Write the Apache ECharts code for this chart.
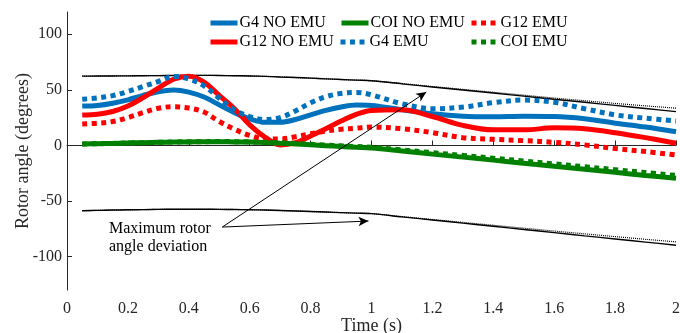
<!DOCTYPE html>
<html>
<head>
<meta charset="utf-8">
<script src="https://cdn.jsdelivr.net/npm/echarts@6/dist/echarts.min.js"></script>
<style>
  html, body { margin: 0; padding: 0; background: #fff; }
  #chart { width: 680px; height: 333px; }
</style>
</head>
<body>
<div id="chart"></div>
<script>
const time = [0.05, 0.1, 0.15, 0.2, 0.25, 0.3, 0.35, 0.4, 0.45, 0.5, 0.55, 0.6, 0.65, 0.7, 0.75,
  0.8, 0.85, 0.9, 0.95, 1.0, 1.1, 1.2, 1.3, 1.4, 1.5, 1.6, 1.7, 1.8, 1.9, 2.0]

const g4NoEmu = [35.4, 36, 38, 41, 45, 48.3, 49.8, 48, 43.5, 36.5, 29.5, 24, 20.8, 20.8, 23.3,
  27.5, 31.5, 34.5, 36.3, 36, 32, 28.5, 26.3, 25.8, 26.2, 26, 24, 20, 16.5, 12.3]
const g4Emu = [41.5, 42.8, 44.8, 48.5, 53, 57.5, 62, 59.8, 53.5, 42.5, 32, 26, 23.2, 25, 31,
  38.3, 43.8, 46.8, 47.6, 45.5, 37.5, 33, 34.5, 38.5, 40.8, 38.8, 33, 27.5, 24.5, 22]
const g12NoEmu = [27.3, 28, 30.5, 35.5, 43, 51.5, 59.5, 62.3, 57, 45, 33, 18.5, 7.5, 0.5, 2.5,
  8.5, 15, 22, 28, 31.5, 32, 26, 18, 14, 14, 15.8, 15, 11.5, 7, 2]
const g12Emu = [19.2, 20, 21.5, 25, 29.5, 33.5, 34.8, 33.6, 30, 21.5, 14.5, 9, 6, 5.8, 7.8,
  10.5, 13, 14.5, 15.5, 16.5, 15, 11.5, 7, 5.5, 4.3, 2.8, 0.5, -2.8, -5.5, -8.6]
const coiNoEmu = [1.3, 1.5, 1.8, 2.2, 2.5, 2.8, 3, 3.2, 3.3, 3.3, 3.2, 3, 2.6, 2, 1.4,
  0.6, -0.2, -1, -1.7, -2.3, -5, -7.8, -10.5, -13.2, -16, -18.8, -21.5, -24.2, -27, -29.6]
const coiEmu = [1.3, 1.5, 1.8, 2.2, 2.5, 2.8, 3.1, 3.3, 3.4, 3.5, 3.4, 3.2, 2.9, 2.4, 1.8,
  1.1, 0.4, -0.3, -1, -1.6, -4, -6.5, -9, -11.5, -14, -16.6, -19.2, -21.8, -24.4, -27]

// maximum rotor angle deviation envelopes
const upperNoEmu = [62.3, 62.4, 62.5, 62.6, 62.7, 62.8, 62.9, 63, 63, 62.9, 62.7, 62.5, 62.1, 61.6, 61.1,
  60.5, 59.9, 59.3, 58.7, 58.2, 55.4, 52.6, 49.8, 47.1, 44.3, 41.5, 38.8, 36, 33.2, 30.4]
const upperEmu = [62.3, 62.4, 62.5, 62.6, 62.7, 62.8, 62.9, 63, 63, 62.9, 62.7, 62.5, 62.1, 61.6, 61.1,
  60.5, 59.9, 59.3, 58.7, 58.2, 55.6, 53, 50.4, 47.8, 45.2, 42.6, 40.2, 37.8, 35.6, 33.5]
const lowerNoEmu = [-58.7, -58.4, -58.1, -57.9, -57.7, -57.5, -57.4, -57.4, -57.4, -57.5, -57.6, -57.8, -58.1, -58.5, -58.9,
  -59.4, -59.9, -60.4, -60.9, -61.3, -64.2, -67, -69.9, -72.7, -75.6, -78.4, -81.3, -84.1, -86.9, -89.7]
const lowerEmu = [-58.7, -58.4, -58.1, -57.9, -57.7, -57.5, -57.4, -57.4, -57.4, -57.5, -57.6, -57.8, -58.1, -58.5, -58.9,
  -59.4, -59.9, -60.4, -60.9, -61.3, -64, -66.6, -69.2, -71.8, -74.4, -77, -79.5, -82, -84.4, -86.7]

const yTicks = [-100, -50, 0, 50, 100]
const arrowStart = [0.51, -73.4]
const arrowEnds = [[1.18, 48], [0.99, -68]]

const FONT = '"Liberation Serif", "Times New Roman", serif'
const BLUE = '#0072BD'
const RED = '#FF0000'
const GREEN = '#008000'

const pairs = (ys) => time.map((t, i) => [t, ys[i]])

function curve(name, ys, color, dotted) {
  return {
    name,
    type: 'line',
    data: pairs(ys),
    symbol: 'none',
    smooth: 0.35,
    color,
    lineStyle: { color, width: 5, type: dotted ? [5, 4.5] : 'solid', cap: 'butt' },
    animation: false,
  }
}

function envelope(ys, dotted) {
  return {
    type: 'line',
    data: pairs(ys),
    symbol: 'none',
    smooth: 0.3,
    silent: true,
    lineStyle: { color: '#000', width: dotted ? 1.2 : 1.4, type: dotted ? [1, 1] : 'solid' },
    animation: false,
  }
}

function legendAt(name, left, top) {
  return {
    data: [name],
    left,
    top,
    padding: 0,
    itemWidth: 27,
    itemHeight: 16,
    itemGap: 0,
    textStyle: { fontFamily: FONT, fontSize: 16, color: '#000', padding: [0, 0, 0, -3] },
    lineStyle: { width: 5 },
    itemStyle: { opacity: 0 },
    selectedMode: false,
  }
}

const chart = echarts.init(document.getElementById('chart'))

const annotation = envelope(upperNoEmu, false)
annotation.markLine = {
  silent: true,
  symbol: ['none', 'arrow'],
  symbolSize: [7, 10],
  label: { show: false },
  lineStyle: { color: '#000', width: 1, type: 'solid' },
  animation: false,
  data: arrowEnds.map((end) => [{ coord: arrowStart }, { coord: end }]),
}

chart.setOption({
  backgroundColor: '#fff',
  textStyle: { fontFamily: FONT },
  grid: { left: 67, right: 4, top: 12, bottom: 43, outerBoundsMode: 'none', containLabel: false },
  legend: [
    legendAt('G4 NO EMU', 208, 15),
    legendAt('COI NO EMU', 339, 15),
    legendAt('G12 EMU', 469, 15),
    legendAt('G12 NO EMU', 208, 34),
    legendAt('G4 EMU', 338, 34),
    legendAt('COI EMU', 469, 34),
  ],
  xAxis: {
    type: 'value',
    min: 0,
    max: 2,
    interval: 0.2,
    name: 'Time (s)',
    nameLocation: 'middle',
    nameGap: 27,
    nameMoveOverlap: false,
    nameTextStyle: { fontFamily: FONT, fontSize: 18, color: '#262626' },
    axisLine: { lineStyle: { color: '#262626', width: 1 } },
    axisTick: { inside: true, length: 5, lineStyle: { color: '#262626' } },
    axisLabel: { fontFamily: FONT, fontSize: 16, color: '#262626', margin: 11 },
    splitLine: { show: false },
  },
  yAxis: {
    type: 'value',
    min: -130,
    max: 120,
    name: 'Rotor angle (degrees)',
    nameLocation: 'middle',
    nameGap: 35,
    nameMoveOverlap: false,
    nameTextStyle: { fontFamily: FONT, fontSize: 18, color: '#262626' },
    axisLine: { show: true, lineStyle: { color: '#262626', width: 1 } },
    axisTick: { show: true, inside: true, length: 5, customValues: yTicks, lineStyle: { color: '#262626' } },
    axisLabel: { fontFamily: FONT, fontSize: 16, color: '#262626', margin: 5, customValues: yTicks },
    splitLine: { show: false },
  },
  graphic: [
    {
      type: 'text',
      left: 109,
      top: 220,
      style: {
        text: 'Maximum rotor\nangle deviation',
        font: '16px "Liberation Serif", serif',
        lineHeight: 18,
        fill: '#000',
      },
    },
  ],
  series: [
    annotation,
    envelope(upperEmu, true),
    envelope(lowerNoEmu, false),
    envelope(lowerEmu, true),
    curve('G4 NO EMU', g4NoEmu, BLUE, false),
    curve('G12 NO EMU', g12NoEmu, RED, false),
    curve('COI NO EMU', coiNoEmu, GREEN, false),
    curve('G12 EMU', g12Emu, RED, true),
    curve('G4 EMU', g4Emu, BLUE, true),
    curve('COI EMU', coiEmu, GREEN, true),
  ],
})
</script>
</body>
</html>
